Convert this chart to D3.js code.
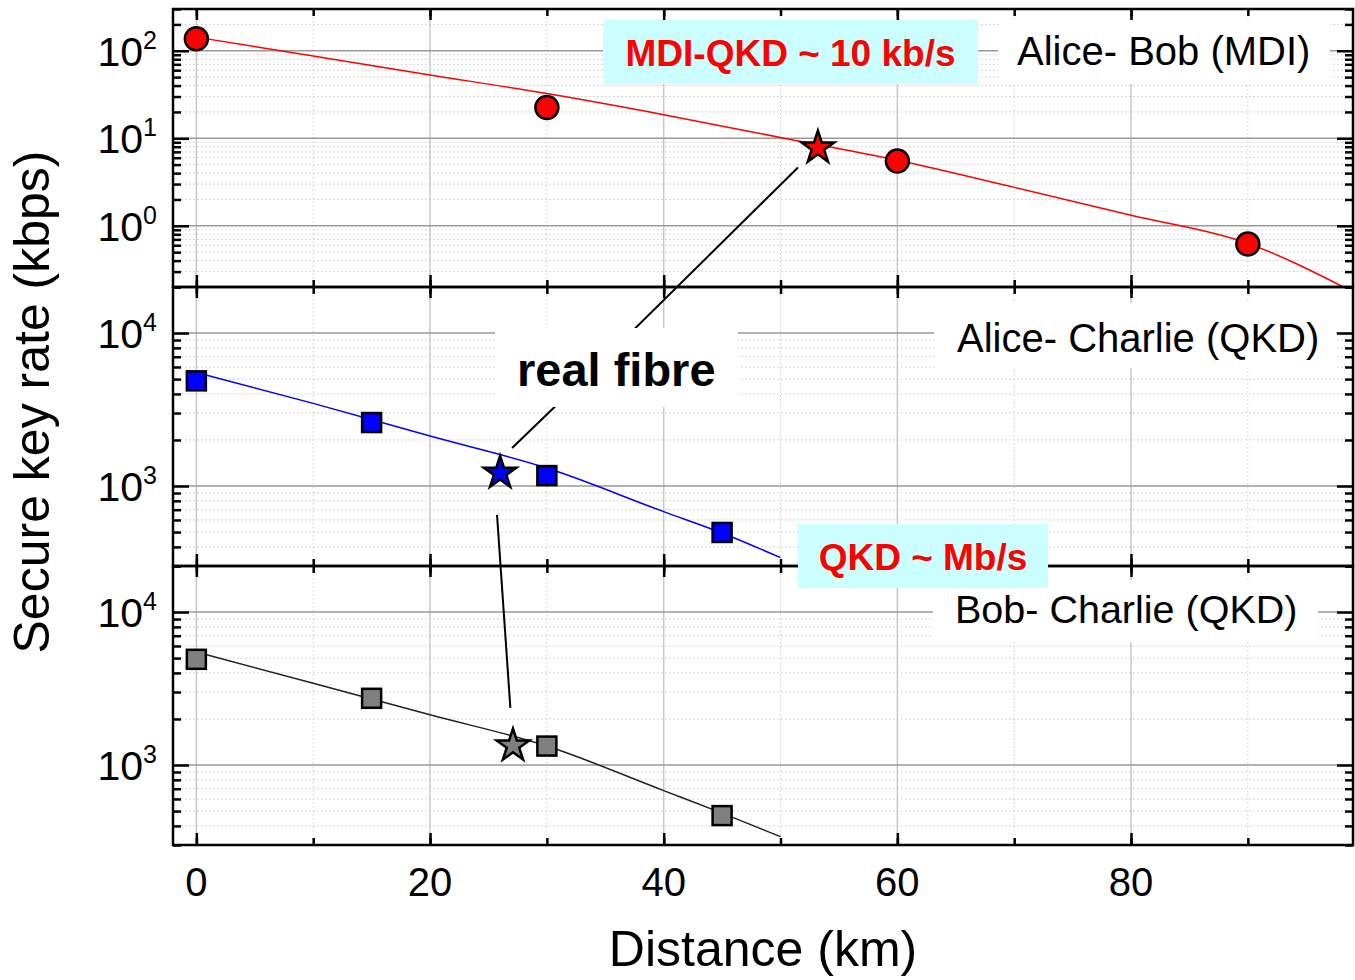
<!DOCTYPE html>
<html>
<head>
<meta charset="utf-8">
<script src="https://cdn.jsdelivr.net/npm/d3@7"></script>
<style>
  body { margin: 0; background: #fff; }
  text { font-family: Arial, "Liberation Sans", sans-serif; }
</style>
</head>
<body>
<svg id="chart" width="1355" height="980"></svg>
<script>
// measured points (km, kbps)
const distMDI = [0, 30, 60, 90];
const rateMDI = [137, 22.5, 5.5, 0.62];
const distQKD = [0, 15, 30, 45];
const rateAC = [4870, 2600, 1170, 497];
const rateBC = [4910, 2730, 1330, 467];

// real fibre stars: MDI, Alice-Charlie, Bob-Charlie
const starDist = [53.2, 26, 27.1];
const starRate = [7.8, 1217, 1337];

// simulated curves
const fitDistMDI = [0, 10, 20, 30, 40, 50, 60, 70, 80, 90, 98.5];
const fitRateMDI = [143, 87, 53, 32.4, 18.6, 10.2, 5.6, 2.75, 1.32, 0.63, 0.19];
const fitDistQKD = [0, 10, 20, 30, 40, 45, 50];
const fitRateAC = [5520, 3470, 2120, 1310, 680, 493, 340];
const fitRateBC = [5480, 3420, 2130, 1330, 680, 485, 340];

const xTicks = [0, 20, 40, 60, 80];
const xMinorTicks = [0, 10, 20, 30, 40, 50, 60, 70, 80, 90];
const yDomains = [[0.2, 300], [300, 20000], [300, 20000]];
const yExponents = [[2, 1, 0], [4, 3], [4, 3]];
const panelNames = ["Alice- Bob (MDI)", "Alice- Charlie (QKD)", "Bob- Charlie (QKD)"];

const svg = d3.select("#chart");
const left = 173, right = 1353;
const panelTop = [9, 287, 566];
const panelBottom = [287, 566, 845];

const x = d3.scaleLinear().domain([-2, 99]).range([left, right]);

const panels = [
  { dist: distMDI, rate: rateMDI, fitX: fitDistMDI, fitY: fitRateMDI, color: "#ff0000", shape: "circle" },
  { dist: distQKD, rate: rateAC, fitX: fitDistQKD, fitY: fitRateAC, color: "#0000ff", shape: "square" },
  { dist: distQKD, rate: rateBC, fitX: fitDistQKD, fitY: fitRateBC, color: "#808080", shape: "square" }
];
const lineColors = ["#ff0000", "#0000ff", "#222222"];

const gridLayer = svg.append("g");
const dataLayer = svg.append("g");
const axisLayer = svg.append("g");
const annoLayer = svg.append("g");

const yScales = [];

panels.forEach((p, i) => {
  const top = panelTop[i], bottom = panelBottom[i];
  const y = d3.scaleLog().domain(yDomains[i]).range([bottom, top]);
  yScales.push(y);

  // log ticks 1..9 per decade inside the domain
  const [d0, d1] = yDomains[i];
  const minor = [], major = [];
  for (let e = Math.floor(Math.log10(d0)); e <= Math.ceil(Math.log10(d1)); e++) {
    for (let k = 1; k <= 9; k++) {
      const v = k * Math.pow(10, e);
      if (v < d0 * 0.999 || v > d1 * 1.001) continue;
      if (k === 1) major.push(v); else minor.push(v);
    }
  }

  // grid
  const g = gridLayer.append("g");
  g.selectAll(".hminor").data(minor).enter().append("line")
    .attr("x1", left).attr("x2", right)
    .attr("y1", d => y(d)).attr("y2", d => y(d))
    .attr("stroke", "#c8c8c8").attr("stroke-width", 1).attr("stroke-dasharray", "1.5,2.5");
  g.selectAll(".vgrid").data(xMinorTicks).enter().append("line")
    .attr("x1", d => x(d)).attr("x2", d => x(d))
    .attr("y1", top).attr("y2", bottom)
    .attr("stroke", d => d % 20 === 0 ? "#c8c8c8" : "#cccccc")
    .attr("stroke-width", d => d % 20 === 0 ? 1.5 : 1)
    .attr("stroke-dasharray", d => d % 20 === 0 ? null : "1.5,2.5");
  g.selectAll(".hmajor").data(major).enter().append("line")
    .attr("x1", left).attr("x2", right)
    .attr("y1", d => y(d)).attr("y2", d => y(d))
    .attr("stroke", "#9a9a9a").attr("stroke-width", 1.6);

  // fit curve, clipped to the panel
  svg.append("clipPath").attr("id", "clip" + i).append("rect")
    .attr("x", left).attr("y", top).attr("width", right - left).attr("height", bottom - top);
  const line = d3.line().x(d => x(d[0])).y(d => y(d[1])).curve(d3.curveMonotoneX);
  dataLayer.append("path")
    .datum(p.fitX.map((d, j) => [d, p.fitY[j]]))
    .attr("clip-path", `url(#clip${i})`)
    .attr("fill", "none").attr("stroke", lineColors[i]).attr("stroke-width", 1.5)
    .attr("d", line);

  // markers
  const pts = p.dist.map((d, j) => [d, p.rate[j]]);
  if (p.shape === "circle") {
    dataLayer.selectAll(".c" + i).data(pts).enter().append("circle")
      .attr("cx", d => x(d[0])).attr("cy", d => y(d[1])).attr("r", 11.5)
      .attr("fill", p.color).attr("stroke", "#000").attr("stroke-width", 2.5);
  } else {
    dataLayer.selectAll(".s" + i).data(pts).enter().append("rect")
      .attr("x", d => x(d[0]) - 9.5).attr("y", d => y(d[1]) - 9.5)
      .attr("width", 19).attr("height", 19)
      .attr("fill", p.color).attr("stroke", "#000").attr("stroke-width", 2.5);
  }
  dataLayer.append("path")
    .attr("d", d3.symbol(d3.symbolStar, 330)())
    .attr("transform", `translate(${x(starDist[i])},${y(starRate[i])})`)
    .attr("fill", p.color).attr("stroke", "#000").attr("stroke-width", 2.5)
    .attr("stroke-linejoin", "miter");

  // ticks (inward) on all four sides
  const ax = axisLayer.append("g");
  const tickStyle = sel => {
    sel.select(".domain").remove();
    sel.selectAll("line").attr("stroke", "#000").attr("stroke-width", 2.5);
    sel.selectAll("text").remove();
  };
  ax.append("g").attr("transform", `translate(0,${bottom})`)
    .call(d3.axisBottom(x).tickValues(xMinorTicks).tickSize(-7).tickSizeOuter(0)).call(tickStyle);
  ax.append("g").attr("transform", `translate(0,${bottom})`)
    .call(d3.axisBottom(x).tickValues(xTicks).tickSize(-12).tickSizeOuter(0)).call(tickStyle);
  ax.append("g").attr("transform", `translate(0,${top})`)
    .call(d3.axisTop(x).tickValues(xMinorTicks).tickSize(-7).tickSizeOuter(0)).call(tickStyle);
  ax.append("g").attr("transform", `translate(0,${top})`)
    .call(d3.axisTop(x).tickValues(xTicks).tickSize(-11).tickSizeOuter(0)).call(tickStyle);
  ax.append("g").attr("transform", `translate(${left},0)`)
    .call(d3.axisLeft(y).tickValues(minor).tickSize(-8).tickSizeOuter(0)).call(tickStyle);
  ax.append("g").attr("transform", `translate(${left},0)`)
    .call(d3.axisLeft(y).tickValues(major).tickSize(-16).tickSizeOuter(0)).call(tickStyle);
  ax.append("g").attr("transform", `translate(${right},0)`)
    .call(d3.axisRight(y).tickValues(minor).tickSize(-8).tickSizeOuter(0)).call(tickStyle);
  ax.append("g").attr("transform", `translate(${right},0)`)
    .call(d3.axisRight(y).tickValues(major).tickSize(-16).tickSizeOuter(0)).call(tickStyle);

  ax.append("rect")
    .attr("x", left).attr("y", top).attr("width", right - left).attr("height", bottom - top)
    .attr("fill", "none").attr("stroke", "#000").attr("stroke-width", 2.5);

  // y tick labels 10^n
  const lab = ax.selectAll(".ylab" + i).data(yExponents[i]).enter().append("text")
    .attr("x", 157).attr("y", d => y(Math.pow(10, d)) + 15)
    .attr("text-anchor", "end").attr("font-size", 41).attr("fill", "#000");
  lab.append("tspan").text("10");
  lab.append("tspan").attr("font-size", 25).attr("dy", -17).text(d => d);
});

// x tick labels
axisLayer.selectAll(".xlab").data(xTicks).enter().append("text")
  .attr("x", d => x(d)).attr("y", 896)
  .attr("text-anchor", "middle").attr("font-size", 40).text(d => d);

// axis titles
svg.append("text").attr("x", 763).attr("y", 966)
  .attr("text-anchor", "middle").attr("font-size", 50).text("Distance (km)");
svg.append("text").attr("transform", "translate(49,402) rotate(-90)")
  .attr("text-anchor", "middle").attr("font-size", 50).text("Secure key rate (kbps)");

// connectors for "real fibre"
const [yMDI, yAC, yBC] = yScales;
const hub = [593, 370];
function connector(p0, p1, gap0, gap1) {
  const dx = p1[0] - p0[0], dy = p1[1] - p0[1];
  const len = Math.hypot(dx, dy);
  annoLayer.append("line")
    .attr("x1", p0[0] + dx * gap0 / len).attr("y1", p0[1] + dy * gap0 / len)
    .attr("x2", p1[0] - dx * gap1 / len).attr("y2", p1[1] - dy * gap1 / len)
    .attr("stroke", "#000").attr("stroke-width", 2);
}
const starMDI = [x(starDist[0]), yMDI(starRate[0])];
const starAC = [x(starDist[1]), yAC(starRate[1])];
const starBC = [x(starDist[2]), yBC(starRate[2])];
connector(hub, starMDI, 0, 28);
connector(hub, [starAC[0] - 14, starAC[1]], 0, 36);
connector([starAC[0] - 6, starAC[1]], starBC, 42, 38);

// white label boxes
const whiteBoxes = [
  { x: 998, y: 20, w: 332, h: 64, text: panelNames[0], tx: 1017, ty: 65, size: 40, weight: "normal" },
  { x: 934, y: 303, w: 402, h: 65, text: panelNames[1], tx: 957, ty: 352, size: 40, weight: "normal" },
  { x: 933, y: 580, w: 385, h: 62, text: panelNames[2], tx: 955, ty: 623, size: 39.5, weight: "normal" },
  { x: 495, y: 328, w: 243, h: 79, text: "real fibre", tx: 517, ty: 386, size: 47, weight: "bold" }
];
whiteBoxes.forEach(b => {
  annoLayer.append("rect").attr("x", b.x).attr("y", b.y).attr("width", b.w).attr("height", b.h).attr("fill", "#fff");
  annoLayer.append("text").attr("x", b.tx).attr("y", b.ty)
    .attr("font-size", b.size).attr("font-weight", b.weight).attr("fill", "#000").text(b.text);
});

// cyan highlight boxes
const cyanBoxes = [
  { x: 603, y: 20, w: 375, h: 64, text: "MDI-QKD ~ 10 kb/s", ty: 66 },
  { x: 798, y: 524, w: 250, h: 64, text: "QKD ~ Mb/s", ty: 570 }
];
cyanBoxes.forEach(b => {
  annoLayer.append("rect").attr("x", b.x).attr("y", b.y).attr("width", b.w).attr("height", b.h).attr("fill", "#ccffff");
  annoLayer.append("text").attr("x", b.x + b.w / 2).attr("y", b.ty)
    .attr("text-anchor", "middle").attr("font-size", 37).attr("font-weight", "bold")
    .attr("fill", "#ff0000").text(b.text);
});
</script>
</body>
</html>
